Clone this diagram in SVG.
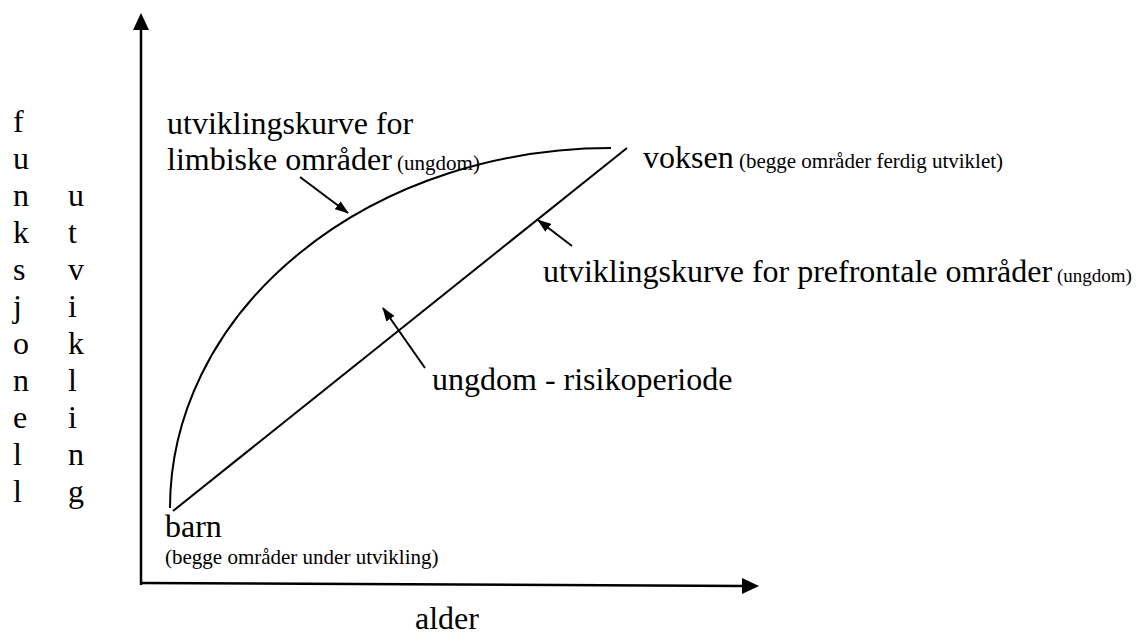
<svg xmlns="http://www.w3.org/2000/svg" width="1142" height="636" viewBox="0 0 1142 636">
<style>
text{font-family:"Liberation Serif","Times New Roman",serif;fill:#000}
.l{font-size:32px}
.s{font-size:21px}
.ax{stroke:#000;stroke-width:2.5;fill:none}
.ln{stroke:#000;stroke-width:2;fill:none}
</style>
<defs>
<marker id="ah" viewBox="0 0 14 10" refX="13" refY="5" markerWidth="7" markerHeight="5" markerUnits="strokeWidth" orient="auto"><path d="M0,0 L14,5 L0,10 z" fill="#000"/></marker>
</defs>
<rect width="1142" height="636" fill="#fff"/>
<g id="axes">
<line class="ax" x1="141" y1="585" x2="141" y2="28"/>
<polygon points="141,13 133,30 149,30" fill="#000"/>
<line class="ax" x1="140" y1="583" x2="744" y2="586"/>
<polygon points="759,586 742,578 742,594" fill="#000"/>
</g>
<g id="curves">
<path id="limbic" class="ln" d="M170,508 A441,360 0 0 1 611,148"/>
<line id="prefrontal" class="ln" x1="173" y1="511" x2="627" y2="148"/>
</g>
<g id="connectors">
<line class="ln" x1="300" y1="177" x2="348" y2="213" marker-end="url(#ah)"/>
<line class="ln" x1="572" y1="246" x2="538" y2="220" marker-end="url(#ah)"/>
<line class="ln" x1="425" y1="368" x2="383" y2="308" marker-end="url(#ah)"/>
</g>
<g id="label-limbic">
<text class="l" x="167" y="134">utviklingskurve for</text>
<text x="167" y="170"><tspan class="l">limbiske områder</tspan><tspan class="s"> (ungdom)</tspan></text>
</g>
<g id="label-voksen">
<text x="643" y="168"><tspan class="l">voksen</tspan><tspan class="s"> (begge områder ferdig utviklet)</tspan></text>
</g>
<g id="label-prefrontal">
<text x="543" y="282"><tspan class="l">utviklingskurve for prefrontale områder</tspan><tspan font-size="19"> (ungdom)</tspan></text>
</g>
<g id="label-ungdom">
<text class="l" x="432" y="390">ungdom - risikoperiode</text>
</g>
<g id="label-barn">
<text class="l" x="165" y="537">barn</text>
<text class="s" x="165" y="564">(begge områder under utvikling)</text>
</g>
<g id="label-alder">
<text class="l" x="415" y="629">alder</text>
</g>
<g id="label-y1" class="l">
<text x="13" y="132">f</text>
<text x="13" y="169">u</text>
<text x="13" y="206">n</text>
<text x="13" y="243">k</text>
<text x="13" y="280">s</text>
<text x="13" y="317">j</text>
<text x="13" y="354">o</text>
<text x="13" y="391">n</text>
<text x="13" y="428">e</text>
<text x="13" y="465">l</text>
<text x="13" y="502">l</text>
</g>
<g id="label-y2" class="l">
<text x="68" y="206">u</text>
<text x="68" y="243">t</text>
<text x="68" y="280">v</text>
<text x="68" y="317">i</text>
<text x="68" y="354">k</text>
<text x="68" y="391">l</text>
<text x="68" y="428">i</text>
<text x="68" y="465">n</text>
<text x="68" y="502">g</text>
</g>
</svg>
